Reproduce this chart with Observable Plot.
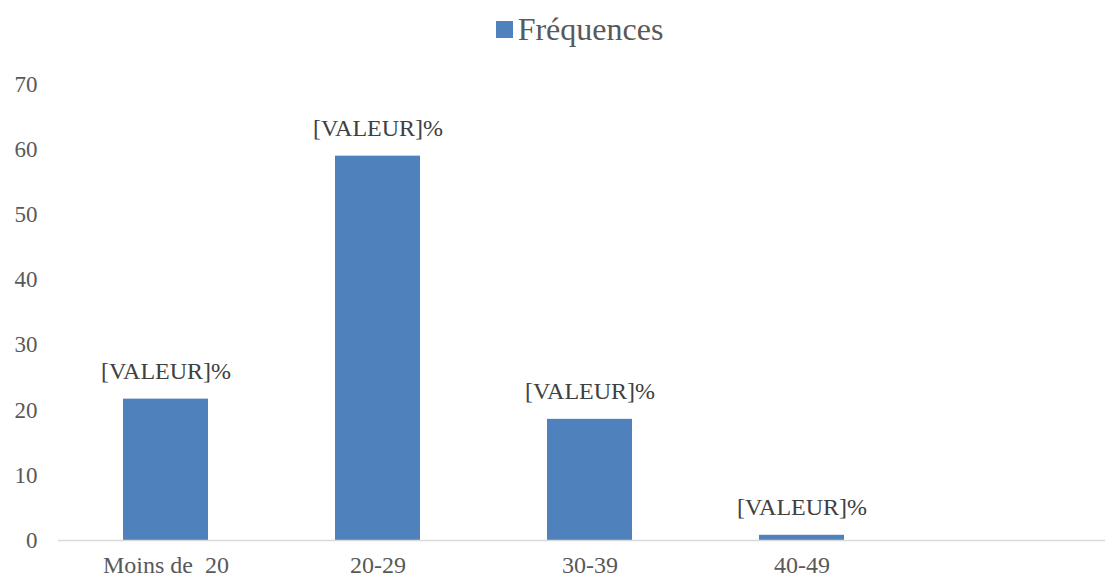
<!DOCTYPE html>
<html>
<head>
<meta charset="utf-8">
<script src="https://cdn.jsdelivr.net/npm/d3@7"></script>
<script src="https://cdn.jsdelivr.net/npm/@observablehq/plot@0.6"></script>
<style>
  body { margin: 0; background: #fff; }
  #legend { height: 58px; display: flex; justify-content: center; align-items: center; font-family: "Liberation Serif", serif; font-size: 32px; color: #595959; padding-left: 54px; box-sizing: border-box; }
  #legend .sw { width: 17px; height: 17px; background: #4f81bd; margin-right: 5px; display: inline-block; }
  #chart svg, #chart svg text { font-family: "Liberation Serif", serif !important; }
</style>
</head>
<body>
<div id="legend"><span class="sw"></span><span>Fréquences</span></div>
<div id="chart"></div>
<script>
const categories = ["Moins de\u00a0 20", "20-29", "30-39", "40-49", ""];
const frequences = [21.7, 59.0, 18.6, 0.8];
const labelText = "[VALEUR]%";
const yTicks = [0, 10, 20, 30, 40, 50, 60, 70];

const data = frequences.map((v, i) => ({ cat: categories[i], value: v }));

const chart = Plot.plot({
  width: 1105,
  height: 519,
  marginTop: 26,
  marginBottom: 37,
  marginLeft: 58,
  marginRight: 0,
  style: { fontFamily: "'Liberation Serif', serif", fontSize: "24px", color: "#595959", background: "#fff" },
  x: { domain: categories, range: [58, 1120], paddingInner: 0.6, paddingOuter: 0.3, label: null },
  y: { domain: [0, 70], ticks: yTicks, label: null },
  marks: [
    Plot.barY(data, { x: "cat", y: "value", fill: "#4f81bd" }),
    Plot.ruleY([0], { stroke: "#d9d9d9", strokeWidth: 1.5 }),
    Plot.text(data, { x: "cat", y: "value", text: () => labelText, dy: -28, fill: "#404040", fontSize: 24 }),
    Plot.axisX({ tickSize: 0, tickPadding: 15, fontSize: 24, fill: "#595959", label: null }),
    Plot.axisY({ ticks: yTicks, tickSize: 0, tickPadding: 21, fontSize: 23, fill: "#595959", label: null })
  ]
});
document.getElementById("chart").appendChild(chart);
</script>
</body>
</html>
